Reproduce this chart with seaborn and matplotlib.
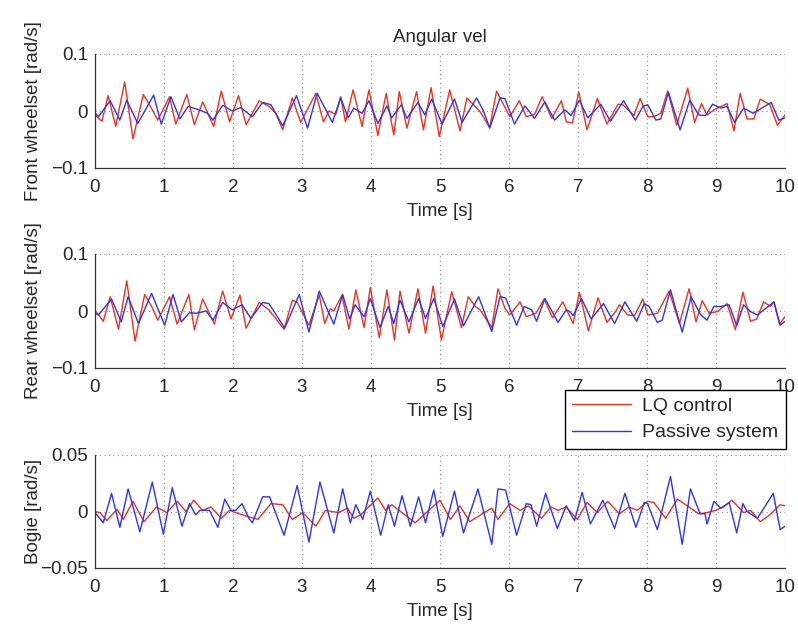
import matplotlib
matplotlib.use("Agg")
import matplotlib.pyplot as plt
import seaborn as sns
import pandas as pd
from matplotlib.lines import Line2D

# ---------------- data (extrema) ----------------
front_lq_t = [0.00, 0.10, 0.19, 0.30, 0.43, 0.55, 0.70, 0.79, 0.91, 1.08, 1.17, 1.33, 1.44, 1.56, 1.72, 1.83,
              1.95, 2.08, 2.19, 2.38, 2.52, 2.62, 2.72, 2.86, 2.98, 3.20, 3.31, 3.39, 3.49, 3.56, 3.63, 3.74,
              3.87, 3.97, 4.10, 4.22, 4.33, 4.41, 4.52, 4.66, 4.76, 4.87, 4.99, 5.14, 5.29, 5.39, 5.51, 5.58,
              5.72, 5.82, 6.01, 6.15, 6.25, 6.37, 6.48, 6.62, 6.76, 6.83, 6.92, 7.01, 7.13, 7.28, 7.42, 7.58,
              7.65, 7.81, 7.90, 8.01, 8.10, 8.20, 8.30, 8.43, 8.59, 8.69, 8.79, 8.87, 8.97, 9.16, 9.26, 9.35,
              9.45, 9.55, 9.64, 9.78, 9.89, 10.00]
front_lq_v = [-0.007, -0.018, 0.027, -0.027, 0.051, -0.049, 0.029, 0.011, -0.016, 0.025, -0.023, 0.029, -0.024,
              0.016, -0.027, 0.035, -0.019, 0.027, -0.024, 0.018, 0.008, -0.004, -0.033, 0.023, -0.020, 0.031,
              -0.019, 0.000, -0.006, 0.025, -0.019, 0.037, -0.027, 0.037, -0.043, 0.031, -0.042, 0.034, -0.030,
              0.034, -0.033, 0.041, -0.045, 0.037, -0.035, 0.023, 0.008, -0.001, -0.029, 0.035, -0.010, 0.018,
              -0.010, -0.006, 0.025, -0.013, 0.018, -0.019, -0.021, 0.034, -0.033, 0.022, -0.023, 0.012, 0.011,
              -0.008, 0.022, -0.010, -0.010, -0.004, 0.035, -0.025, 0.040, -0.020, 0.013, -0.007, 0.002, 0.013,
              -0.035, 0.031, -0.014, -0.014, 0.021, 0.011, -0.025, -0.007]

front_ps_t = [0.00, 0.05, 0.22, 0.36, 0.46, 0.62, 0.85, 0.96, 1.10, 1.23, 1.35, 1.51, 1.63, 1.71, 1.85, 1.99,
              2.11, 2.28, 2.43, 2.55, 2.72, 2.92, 3.08, 3.22, 3.44, 3.56, 3.67, 3.75, 3.87, 3.97, 4.10, 4.23,
              4.30, 4.44, 4.52, 4.68, 4.78, 4.88, 5.03, 5.21, 5.32, 5.53, 5.63, 5.72, 5.87, 5.94, 6.08, 6.23,
              6.37, 6.52, 6.66, 6.81, 6.90, 7.02, 7.14, 7.33, 7.47, 7.66, 7.83, 7.94, 8.01, 8.13, 8.20, 8.31,
              8.48, 8.62, 8.75, 8.85, 8.95, 9.07, 9.16, 9.27, 9.40, 9.54, 9.80, 9.91, 10.00]
front_ps_v = [-0.003, -0.010, 0.018, -0.016, 0.019, -0.022, 0.028, -0.023, 0.025, -0.014, 0.008, 0.002, -0.004,
              -0.016, 0.010, 0.000, 0.006, -0.010, 0.015, 0.011, -0.026, 0.027, -0.030, 0.031, -0.020, 0.023,
              -0.012, 0.005, -0.004, 0.018, -0.022, 0.009, -0.012, 0.011, -0.013, 0.015, -0.007, 0.021, -0.023,
              0.021, -0.020, 0.023, 0.000, -0.030, 0.023, 0.022, -0.023, 0.009, -0.013, 0.016, -0.016, 0.002,
              -0.008, 0.019, -0.012, 0.012, -0.018, 0.018, -0.016, 0.008, 0.011, -0.016, -0.014, 0.033, -0.033,
              0.019, -0.007, -0.008, 0.012, 0.005, 0.008, -0.020, 0.005, -0.004, 0.015, -0.016, -0.012]

rear_lq_t = [0.00, 0.05, 0.12, 0.22, 0.34, 0.46, 0.58, 0.72, 0.82, 0.91, 1.08, 1.19, 1.36, 1.44, 1.56, 1.73,
             1.85, 1.97, 2.10, 2.19, 2.38, 2.52, 2.74, 2.86, 2.93, 3.10, 3.25, 3.33, 3.41, 3.46, 3.58, 3.68,
             3.78, 3.90, 3.99, 4.12, 4.23, 4.34, 4.42, 4.55, 4.68, 4.79, 4.90, 5.02, 5.17, 5.31, 5.41, 5.51,
             5.58, 5.75, 5.84, 5.94, 6.01, 6.16, 6.25, 6.39, 6.51, 6.63, 6.78, 6.93, 7.02, 7.15, 7.29, 7.42,
             7.55, 7.60, 7.72, 7.82, 7.94, 8.01, 8.15, 8.32, 8.47, 8.61, 8.71, 8.80, 8.90, 9.02, 9.16, 9.28,
             9.39, 9.50, 9.59, 9.69, 9.79, 9.84, 9.92, 10.00]
rear_lq_v = [0.000, -0.006, -0.018, 0.025, -0.032, 0.053, -0.053, 0.029, 0.008, -0.016, 0.025, -0.023, 0.029,
             -0.033, 0.021, -0.023, 0.035, -0.014, 0.028, -0.030, 0.015, 0.002, -0.032, 0.019, 0.015, -0.025,
             0.028, -0.022, 0.004, 0.000, 0.028, -0.032, 0.037, -0.029, 0.041, -0.047, 0.037, -0.051, 0.035,
             -0.039, 0.039, -0.039, 0.044, -0.051, 0.034, -0.029, 0.025, 0.008, 0.002, -0.029, 0.039, 0.005,
             -0.007, 0.016, -0.010, -0.004, 0.021, -0.012, 0.016, -0.022, 0.033, -0.035, 0.023, -0.020, 0.000,
             0.011, -0.007, -0.008, 0.021, -0.007, -0.004, 0.035, -0.022, 0.039, -0.019, 0.018, -0.004, -0.001,
             0.013, -0.033, 0.033, -0.018, -0.014, 0.016, 0.008, 0.016, -0.023, -0.010]

rear_ps_t = [0.00, 0.05, 0.24, 0.38, 0.48, 0.63, 0.82, 1.01, 1.13, 1.25, 1.37, 1.47, 1.61, 1.71, 1.85, 1.99,
             2.13, 2.26, 2.43, 2.52, 2.75, 2.96, 3.10, 3.25, 3.46, 3.59, 3.69, 3.77, 3.90, 3.99, 4.13, 4.25,
             4.33, 4.42, 4.55, 4.69, 4.79, 4.91, 5.04, 5.21, 5.34, 5.56, 5.75, 5.87, 5.95, 6.11, 6.22, 6.33,
             6.40, 6.52, 6.71, 6.83, 6.88, 6.93, 7.05, 7.19, 7.37, 7.53, 7.68, 7.85, 7.96, 8.03, 8.15, 8.22,
             8.34, 8.51, 8.64, 8.78, 8.87, 8.97, 9.07, 9.19, 9.30, 9.40, 9.50, 9.60, 9.84, 9.93, 10.00]
rear_ps_v = [-0.004, -0.007, 0.021, -0.019, 0.025, -0.022, 0.031, -0.025, 0.029, -0.019, -0.003, -0.004, 0.000,
             -0.016, 0.015, 0.002, 0.011, -0.013, 0.015, 0.013, -0.030, 0.029, -0.037, 0.035, -0.023, 0.029,
             -0.014, 0.011, -0.010, 0.022, -0.029, 0.008, -0.022, 0.019, -0.019, 0.022, -0.013, 0.022, -0.027,
             0.021, -0.026, 0.025, -0.036, 0.025, 0.023, -0.025, 0.008, 0.002, -0.018, 0.022, -0.020, 0.002,
             -0.001, -0.008, 0.022, -0.014, 0.013, -0.022, 0.016, -0.018, 0.013, 0.008, -0.020, -0.016, 0.037,
             -0.037, 0.025, -0.007, -0.016, 0.008, 0.008, 0.011, -0.026, 0.011, -0.001, -0.007, 0.016, -0.025,
             -0.018]

bogie_lq_t = [0.00, 0.07, 0.17, 0.32, 0.41, 0.55, 0.71, 0.89, 1.04, 1.19, 1.32, 1.43, 1.56, 1.68, 1.83, 1.95,
              2.04, 2.19, 2.36, 2.55, 2.72, 2.86, 3.01, 3.20, 3.34, 3.53, 3.66, 3.75, 3.85, 4.10, 4.21, 4.30,
              4.45, 4.64, 5.00, 5.15, 5.29, 5.43, 5.75, 5.84, 6.01, 6.16, 6.28, 6.47, 6.61, 6.71, 6.83, 6.99,
              7.13, 7.28, 7.43, 7.60, 7.74, 7.86, 8.01, 8.10, 8.27, 8.44, 8.75, 8.87, 8.99, 9.11, 9.23, 9.40,
              9.50, 9.64, 9.78, 9.93, 10.00]
bogie_lq_v = [0.000, -0.001, -0.008, 0.002, -0.007, 0.009, -0.009, 0.004, -0.001, 0.009, 0.000, 0.010, 0.001,
              0.004, -0.006, 0.001, -0.001, -0.004, -0.007, 0.007, 0.006, -0.007, -0.001, -0.013, 0.001, -0.001,
              0.003, -0.006, -0.003, 0.012, 0.001, 0.006, -0.001, -0.010, 0.010, -0.007, 0.005, -0.009, 0.003,
              -0.007, 0.007, 0.001, 0.005, -0.006, 0.004, 0.001, 0.004, -0.007, 0.008, -0.001, 0.009, -0.002,
              0.004, 0.001, 0.009, 0.008, -0.006, 0.011, -0.002, -0.001, 0.001, 0.004, 0.010, -0.001, 0.001,
              -0.009, -0.003, 0.006, 0.005]

bogie_ps_t = [0.00, 0.12, 0.24, 0.36, 0.48, 0.65, 0.83, 0.99, 1.12, 1.26, 1.37, 1.46, 1.52, 1.66, 1.78, 1.88,
              1.97, 2.04, 2.13, 2.23, 2.28, 2.43, 2.53, 2.74, 2.93, 3.10, 3.26, 3.46, 3.59, 3.70, 3.78, 3.88,
              3.99, 4.14, 4.25, 4.34, 4.45, 4.57, 4.69, 4.79, 4.91, 5.04, 5.21, 5.34, 5.55, 5.75, 5.84, 5.95,
              6.11, 6.25, 6.32, 6.40, 6.53, 6.70, 6.83, 6.90, 6.95, 7.06, 7.18, 7.36, 7.53, 7.68, 7.84, 7.96,
              8.01, 8.15, 8.34, 8.51, 8.63, 8.77, 8.84, 8.87, 8.97, 9.07, 9.19, 9.30, 9.39, 9.45, 9.60, 9.83,
              9.93, 10.00]
bogie_ps_v = [-0.001, -0.010, 0.016, -0.014, 0.020, -0.018, 0.026, -0.020, 0.021, -0.013, 0.007, -0.003, 0.001,
              0.001, -0.014, 0.011, 0.001, 0.001, 0.007, -0.006, -0.010, 0.013, 0.013, -0.021, 0.023, -0.027,
              0.026, -0.019, 0.020, -0.010, 0.006, -0.007, 0.018, -0.021, 0.006, -0.013, 0.014, -0.013, 0.013,
              -0.010, 0.019, -0.022, 0.018, -0.019, 0.020, -0.029, 0.020, 0.019, -0.021, 0.007, 0.006, -0.013,
              0.016, -0.015, 0.005, -0.003, -0.008, 0.017, -0.011, 0.010, -0.015, 0.016, -0.014, 0.008, 0.007,
              -0.016, 0.031, -0.029, 0.020, -0.002, -0.002, -0.011, 0.009, 0.003, 0.008, -0.019, 0.007, 0.000,
              -0.006, 0.016, -0.016, -0.013]

series_names = ["LQ control", "Passive system"]
panel_labels = ["Front wheelset [rad/s]", "Rear wheelset [rad/s]", "Bogie [rad/s]"]
panel_ylims = [(-0.1, 0.1), (-0.1, 0.1), (-0.05, 0.05)]
panel_yticks = [[-0.1, 0, 0.1], [-0.1, 0, 0.1], [-0.05, 0, 0.05]]
panel_yticklabels = [["\u22120.1", "0", "0.1"], ["\u22120.1", "0", "0.1"], ["\u22120.05", "0", "0.05"]]
xticks = list(range(0, 11))
title = "Angular vel"
xlabel = "Time [s]"

panels = [
    ((front_lq_t, front_lq_v), (front_ps_t, front_ps_v)),
    ((rear_lq_t, rear_lq_v), (rear_ps_t, rear_ps_v)),
    ((bogie_lq_t, bogie_lq_v), (bogie_ps_t, bogie_ps_v)),
]

# ---------------- style ----------------
sns.set_style("white")
plt.rcParams["font.family"] = ["Liberation Sans", "DejaVu Sans"]
FS = 13.5
plt.rcParams["font.size"] = FS

colors = {"LQ control": "#f0301e", "Passive system": "#2a35f5"}

fig = plt.figure(figsize=(7.98, 6.24), dpi=100)
W, H = 798.0, 624.0
ax_px = [(54, 168), (254, 368), (455, 568)]
left_px, right_px = 95, 785

for i, ((lq, ps), (top, bot)) in enumerate(zip(panels, ax_px)):
    ax = fig.add_axes([left_px / W, 1 - bot / H, (right_px - left_px) / W, (bot - top) / H])
    df = pd.concat([
        pd.DataFrame({"t": lq[0], "v": lq[1], "series": series_names[0]}),
        pd.DataFrame({"t": ps[0], "v": ps[1], "series": series_names[1]}),
    ], ignore_index=True)
    sns.lineplot(data=df, x="t", y="v", hue="series", palette=colors, estimator=None,
                 sort=False, linewidth=1.0, ax=ax, legend=False)
    ax.set_xlim(0, 10)
    ax.set_ylim(*panel_ylims[i])
    ax.set_xticks(xticks)
    ax.set_yticks(panel_yticks[i])
    ax.set_yticklabels(panel_yticklabels[i])
    ax.grid(True, linestyle=(0, (1, 3)), color="#8a8a8a", linewidth=0.8)
    for s in ["top", "right"]:
        ax.spines[s].set_visible(False)
    for s in ["left", "bottom"]:
        ax.spines[s].set_color("#333333")
        ax.spines[s].set_linewidth(0.9)
    ax.tick_params(direction="in", length=4, width=0.8, color="#333333", labelsize=FS)
    ax.tick_params(axis="x", pad=8)
    ax.tick_params(axis="y", pad=5)
    ax.set_xlabel(xlabel, fontsize=FS, labelpad=5)
    ax.set_ylabel(panel_labels[i], fontsize=FS)
    ax.yaxis.set_label_coords(-0.077, 0.5)
    if i == 0:
        ax.set_title(title, fontsize=FS, pad=9)

handles = [Line2D([0], [0], color=colors[n], lw=1.0) for n in series_names]
leg = fig.legend(handles, series_names, loc="upper left", bbox_to_anchor=(565 / W, 1 - 390 / H),
                 frameon=True, fancybox=False, edgecolor="black", fontsize=14,
                 handlelength=3.0, labelspacing=0.45, borderpad=0.38, handletextpad=0.6,
                 borderaxespad=0.0)
leg.get_frame().set_linewidth(1.0)
leg.get_frame().set_facecolor("white")
leg.get_frame().set_alpha(1.0)
leg.set_zorder(10)

fig.savefig("out.png", dpi=100)
